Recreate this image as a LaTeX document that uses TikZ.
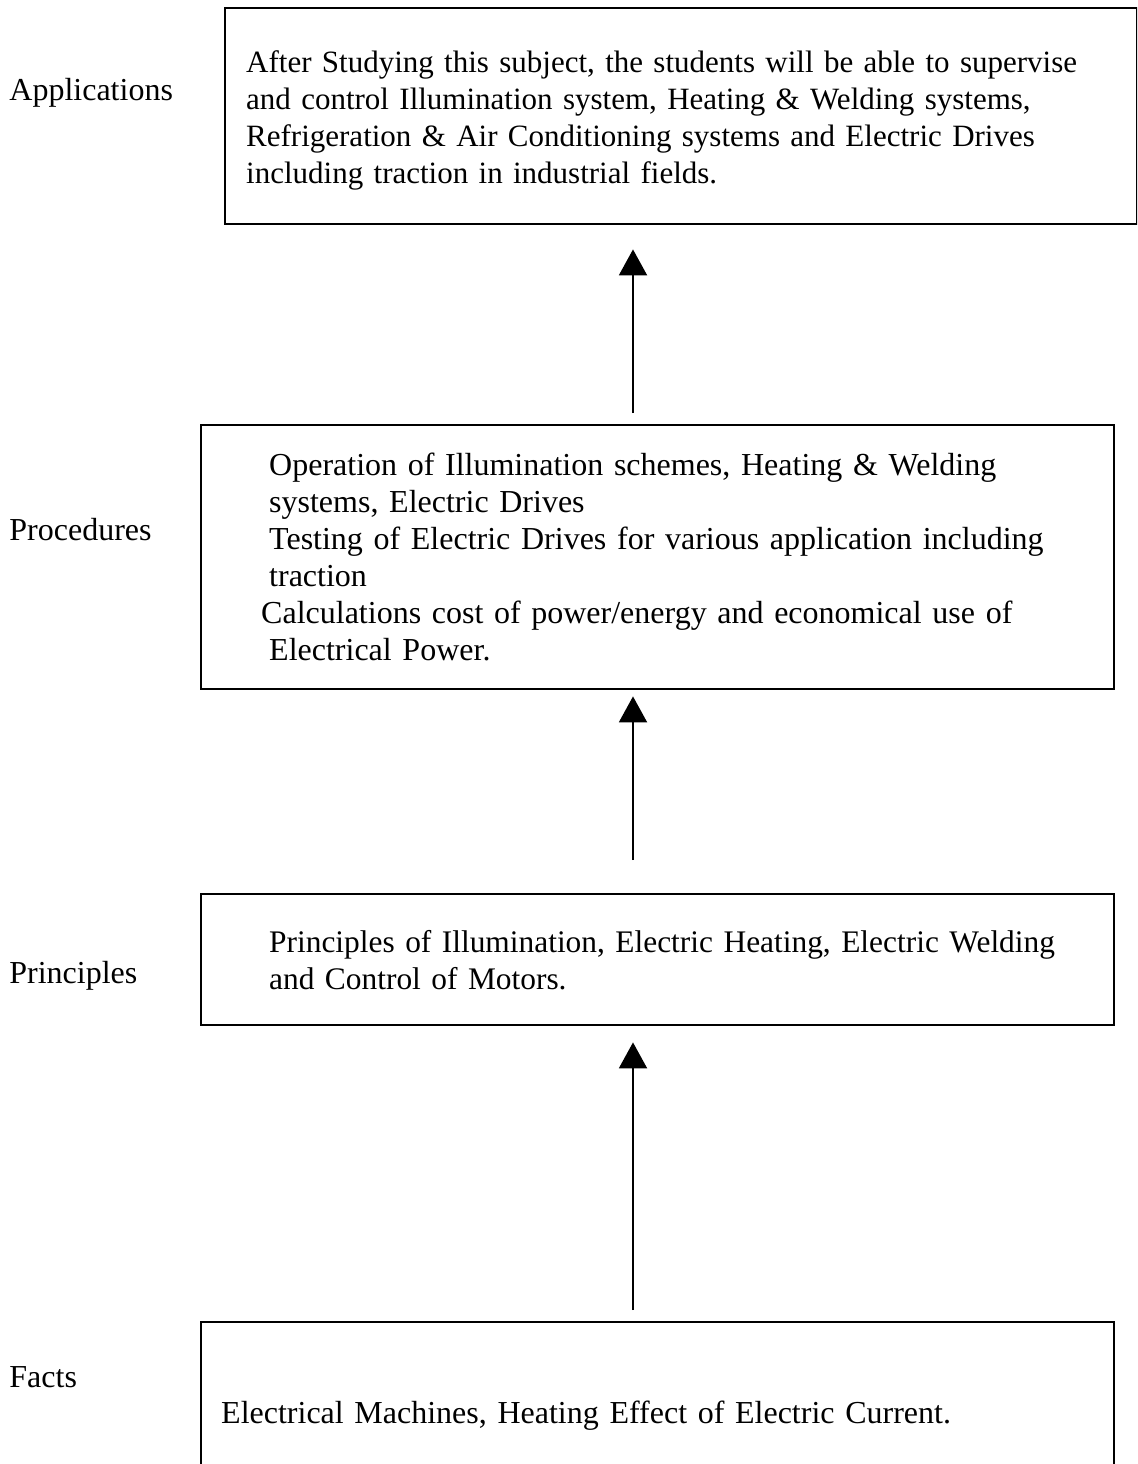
\documentclass[tikz,border=0pt]{standalone}
\usepackage{fontspec}
\setmainfont{Liberation Serif}
\usetikzlibrary{arrows.meta,positioning}

\begin{document}
\begin{tikzpicture}[x=0.5pt,y=-0.5pt]

\tikzset{box/.style={draw, line width=1.2pt, anchor=north west, align=left, inner sep=0pt,
            font=\fontsize{16}{18.5}\selectfont},
         indent/.style={execute at begin node={\leftskip=#1\relax}},
         level/.style={anchor=base west, inner sep=0pt, font=\fontsize{16}{18.5}\selectfont},
         flow/.style={-{Triangle[width=14pt,length=13pt]}, line width=1pt}}

\clip (0,0) rectangle (1137,1464);

\node[box, indent=10.5pt, text width=456pt, minimum height=108pt,
      font=\fontsize{15.5}{18.5}\selectfont] (app) at (224,7)
    {\vrule width 0pt height 15pt After Studying this subject, the students will be able to supervise\\
     and control Illumination system, Heating \& Welding systems,\\
     Refrigeration \& Air Conditioning systems and Electric Drives\\
     including traction in industrial fields.};
\node[box, indent=34pt, text width=456.5pt, minimum height=132pt] (proc) at (200,424)
    {Operation of Illumination schemes, Heating \& Welding\\
     systems, Electric Drives\\
     Testing of Electric Drives for various application including\\
     traction\\
     \hspace*{-4pt}Calculations cost of power/energy and economical use of\\
     Electrical Power.};
\node[box, indent=34pt, text width=456.5pt, minimum height=65.5pt,
      font=\fontsize{15.7}{18.5}\selectfont] (princ) at (200,893)
    {Principles of Illumination, Electric Heating, Electric Welding\\
     and Control of Motors.};
\node[box, indent=10pt, text width=456.5pt, minimum height=93pt] (facts) at (200,1321)
    {Electrical Machines, Heating Effect of Electric Current.};

\node[level] (appLabel) at (9,100) {Applications};
\node[level] (procLabel) at (9,540) {Procedures};
\node[level] (princLabel) at (9,983) {Principles};
\node[level] (factsLabel) at (9,1387) {Facts};

\coordinate (spine) at (633,0);
\draw[flow, shorten <=5.5pt, shorten >=12pt] (proc.north -| spine) -- (app.south -| spine);
\draw[flow, shorten <=16.5pt, shorten >=3pt] (princ.north -| spine) -- (proc.south -| spine);
\draw[flow, shorten <=5.5pt, shorten >=8pt] (facts.north -| spine) -- (princ.south -| spine);

\end{tikzpicture}
\end{document}
